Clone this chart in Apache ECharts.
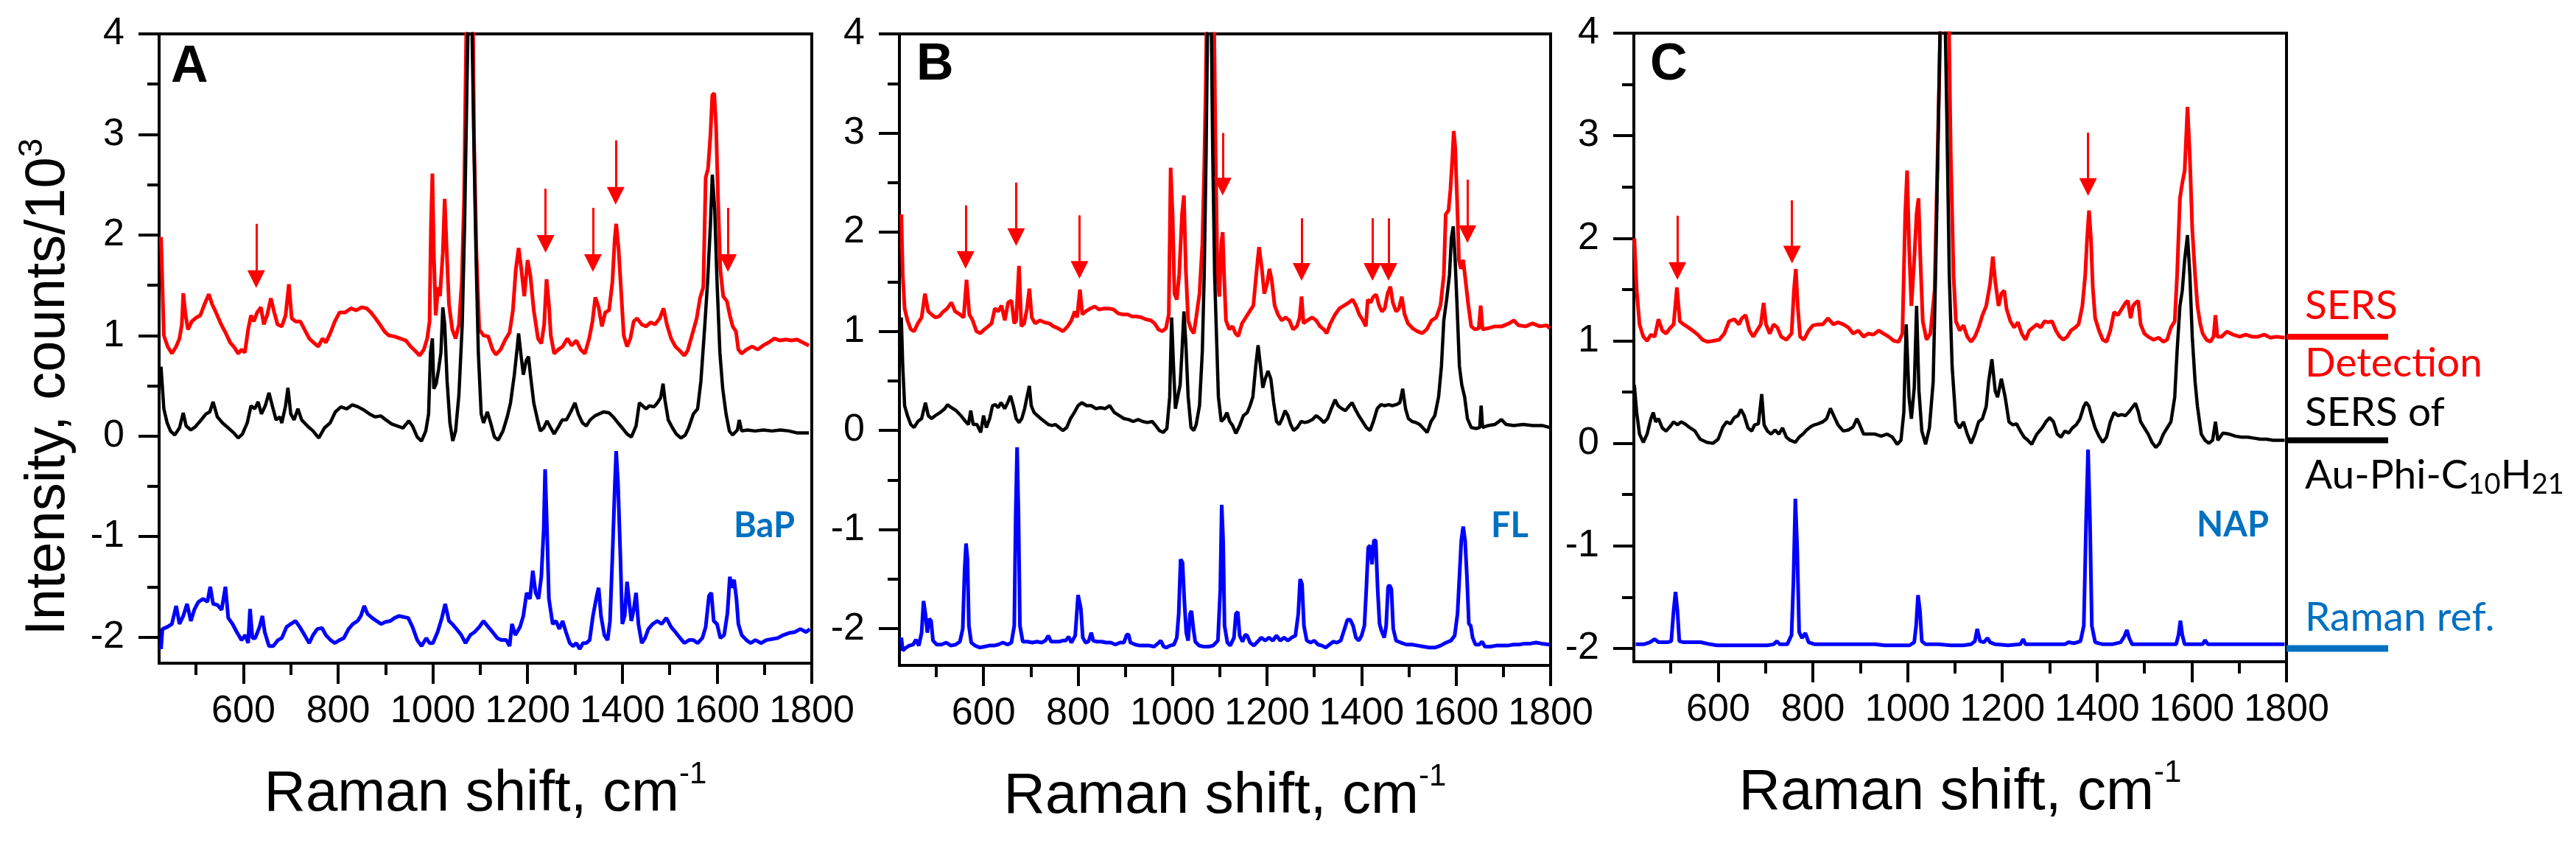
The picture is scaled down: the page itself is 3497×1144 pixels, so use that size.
<!DOCTYPE html>
<html><head><meta charset="utf-8">
<script src="https://cdn.jsdelivr.net/npm/echarts@6/dist/echarts.min.js"></script>
<style>html,body{margin:0;padding:0;background:#fff}#c{width:3497px;height:1144px}</style>
</head><body><div id="c"></div>
<script>
// ---------- axis values ----------
const xTicks = [600, 800, 1000, 1200, 1400, 1600, 1800];
const xMinorTicks = [500, 700, 900, 1100, 1300, 1500, 1700];
const yTicks = [-2, -1, 0, 1, 2, 3, 4];
const yMinorTicks = [-1.5, -0.5, 0.5, 1.5, 2.5, 3.5];
const xMin = 422, xMax = 1800, yMax = 4;
const yMins = [-2.26, -2.37, -2.13];
const panelLetters = ['A', 'B', 'C'];
const refNames = ['BaP', 'FL', 'NAP'];
const swatchLevels = [1.04, 0.03, -2.0];

// ---------- panel A ----------
const sersA = [[426,1.98],[432,1.00],[440,0.89],[449,0.82],[458,0.89],[465,0.97],[470,1.11],[473,1.42],[478,1.20],[483,1.06],[491,1.14],[501,1.18],[509,1.20],[517,1.30],[527,1.41],[534,1.31],[542,1.23],[553,1.11],[562,1.03],[572,0.93],[581,0.88],[589,0.82],[596,0.86],[603,0.83],[610,1.06],[616,1.20],[622,1.14],[629,1.23],[637,1.28],[643,1.11],[650,1.20],[658,1.37],[665,1.23],[672,1.11],[681,1.09],[689,1.20],[696,1.51],[702,1.17],[710,1.14],[720,1.14],[729,1.06],[739,0.97],[748,0.93],[758,0.89],[767,0.97],[774,0.93],[784,1.03],[793,1.14],[803,1.23],[815,1.23],[827,1.27],[838,1.25],[850,1.28],[860,1.27],[869,1.23],[879,1.17],[888,1.11],[898,1.04],[907,1.00],[919,0.99],[931,0.97],[943,0.95],[953,0.89],[962,0.85],[972,0.80],[981,0.86],[988,0.97],[993,1.14],[996,2.10],[999,2.61],[1002,1.82],[1006,1.20],[1011,1.48],[1015,1.39],[1021,1.82],[1025,2.36],[1029,1.87],[1034,1.31],[1041,1.06],[1048,0.97],[1055,1.11],[1061,1.53],[1066,2.38],[1069,3.50],[1072,4.50],[1084,4.50],[1087,2.94],[1092,1.82],[1098,1.06],[1107,1.00],[1117,0.99],[1126,0.86],[1133,0.81],[1143,0.86],[1152,0.95],[1162,1.03],[1169,1.25],[1175,1.65],[1181,1.87],[1187,1.65],[1193,1.39],[1200,1.75],[1206,1.59],[1213,1.25],[1222,0.97],[1229,0.92],[1235,1.11],[1240,1.56],[1245,1.31],[1249,1.00],[1256,0.82],[1265,0.86],[1274,0.89],[1284,0.97],[1293,0.90],[1303,0.95],[1312,0.86],[1321,0.82],[1330,0.97],[1337,1.14],[1343,1.38],[1350,1.28],[1357,1.09],[1364,1.23],[1372,1.25],[1379,1.53],[1384,1.96],[1387,2.11],[1392,1.87],[1397,1.48],[1403,1.00],[1410,0.89],[1417,0.97],[1424,1.14],[1431,1.17],[1441,1.11],[1450,1.09],[1460,1.13],[1469,1.11],[1479,1.17],[1487,1.27],[1494,1.11],[1503,0.97],[1512,0.89],[1521,0.85],[1531,0.80],[1538,0.85],[1547,1.00],[1557,1.17],[1564,1.37],[1571,1.48],[1576,2.57],[1581,2.66],[1586,2.99],[1590,3.39],[1594,3.41],[1598,3.08],[1602,2.38],[1607,1.65],[1613,1.39],[1621,1.34],[1627,1.20],[1633,1.09],[1640,1.04],[1645,0.86],[1652,0.82],[1662,0.86],[1674,0.89],[1686,0.86],[1697,0.90],[1709,0.93],[1721,0.97],[1733,0.95],[1745,0.96],[1757,0.95],[1769,0.96],[1781,0.93],[1794,0.90]];
const auA = [[426,0.69],[432,0.27],[439,0.13],[446,0.05],[455,0.01],[465,0.08],[473,0.23],[479,0.10],[489,0.06],[498,0.09],[509,0.15],[521,0.22],[529,0.24],[536,0.34],[545,0.19],[556,0.13],[568,0.08],[580,0.03],[589,-0.02],[598,0.02],[608,0.13],[616,0.30],[624,0.27],[631,0.34],[638,0.22],[646,0.30],[654,0.43],[661,0.30],[669,0.16],[677,0.19],[681,0.13],[689,0.30],[694,0.48],[700,0.22],[707,0.16],[715,0.27],[723,0.16],[735,0.10],[747,0.05],[759,-0.02],[771,0.08],[783,0.13],[794,0.24],[806,0.29],[818,0.27],[830,0.31],[842,0.29],[854,0.26],[866,0.22],[878,0.19],[890,0.20],[901,0.16],[913,0.12],[925,0.10],[937,0.08],[949,0.15],[957,0.10],[967,-0.01],[976,-0.05],[985,0.05],[991,0.22],[995,0.83],[999,0.97],[1002,0.47],[1007,0.52],[1012,0.66],[1017,0.83],[1021,1.28],[1025,1.11],[1030,0.55],[1036,0.13],[1042,-0.05],[1048,0.05],[1055,0.41],[1062,1.11],[1067,2.10],[1072,3.50],[1076,4.50],[1081,4.50],[1086,3.08],[1091,1.82],[1096,0.83],[1102,0.22],[1107,0.13],[1115,0.24],[1122,0.13],[1130,-0.01],[1138,-0.04],[1148,0.05],[1157,0.19],[1164,0.33],[1172,0.61],[1177,0.83],[1181,1.02],[1186,0.81],[1191,0.61],[1197,0.75],[1202,0.79],[1206,0.61],[1213,0.33],[1221,0.16],[1227,0.05],[1234,0.08],[1241,0.15],[1249,0.08],[1256,0.02],[1265,0.09],[1273,0.16],[1282,0.16],[1291,0.24],[1300,0.33],[1307,0.22],[1316,0.13],[1324,0.10],[1332,0.16],[1342,0.20],[1351,0.22],[1361,0.24],[1372,0.23],[1381,0.19],[1391,0.13],[1400,0.08],[1410,0.02],[1419,-0.01],[1429,0.10],[1436,0.33],[1443,0.30],[1450,0.27],[1457,0.30],[1467,0.29],[1474,0.33],[1481,0.38],[1486,0.52],[1490,0.36],[1497,0.16],[1506,0.08],[1514,0.02],[1524,-0.02],[1533,0.01],[1540,0.08],[1550,0.22],[1559,0.27],[1566,0.55],[1574,1.09],[1580,1.53],[1586,2.10],[1590,2.60],[1595,2.26],[1600,1.53],[1606,0.83],[1612,0.47],[1619,0.22],[1626,0.05],[1633,0.01],[1643,0.06],[1647,0.16],[1652,0.05],[1664,0.06],[1680,0.05],[1698,0.06],[1716,0.05],[1734,0.06],[1752,0.05],[1770,0.03],[1794,0.03]];
const refA = [[426,-2.12],[429,-1.92],[439,-1.90],[449,-1.87],[458,-1.69],[465,-1.87],[473,-1.79],[481,-1.67],[489,-1.84],[497,-1.72],[505,-1.65],[515,-1.62],[524,-1.65],[530,-1.50],[536,-1.67],[545,-1.68],[554,-1.73],[562,-1.50],[568,-1.81],[577,-1.87],[586,-1.95],[596,-2.03],[604,-1.98],[610,-2.06],[614,-1.72],[619,-2.01],[625,-2.01],[634,-1.90],[640,-1.79],[645,-1.95],[654,-2.09],[663,-2.09],[673,-2.03],[681,-2.01],[691,-1.90],[700,-1.87],[710,-1.84],[719,-1.90],[729,-1.98],[739,-2.06],[747,-1.98],[756,-1.92],[766,-1.91],[774,-1.98],[784,-2.03],[793,-2.06],[803,-2.03],[812,-2.01],[822,-1.92],[831,-1.87],[841,-1.84],[848,-1.79],[855,-1.69],[862,-1.77],[872,-1.81],[881,-1.84],[891,-1.87],[900,-1.85],[910,-1.84],[919,-1.81],[929,-1.79],[938,-1.80],[948,-1.81],[957,-1.90],[967,-2.03],[976,-2.09],[986,-2.01],[993,-2.06],[1000,-2.06],[1010,-1.95],[1019,-1.81],[1026,-1.67],[1034,-1.84],[1041,-1.87],[1050,-1.92],[1060,-1.98],[1069,-2.06],[1079,-1.98],[1088,-1.95],[1098,-1.90],[1107,-1.84],[1117,-1.90],[1126,-1.95],[1136,-2.01],[1145,-2.03],[1155,-2.03],[1162,-2.09],[1167,-1.87],[1174,-1.98],[1184,-1.90],[1191,-1.79],[1198,-1.56],[1205,-1.62],[1211,-1.34],[1217,-1.56],[1223,-1.62],[1229,-1.40],[1234,-0.93],[1237,-0.33],[1241,-0.93],[1245,-1.62],[1253,-1.87],[1260,-1.84],[1267,-1.92],[1274,-1.84],[1281,-1.95],[1289,-2.06],[1296,-2.09],[1303,-2.06],[1310,-2.12],[1317,-2.06],[1324,-2.06],[1331,-2.03],[1338,-1.79],[1346,-1.59],[1350,-1.51],[1355,-1.79],[1362,-1.98],[1369,-2.03],[1374,-1.84],[1379,-1.21],[1384,-0.52],[1387,-0.15],[1391,-0.48],[1396,-1.21],[1400,-1.87],[1405,-1.79],[1410,-1.45],[1415,-1.67],[1419,-1.84],[1424,-1.73],[1429,-1.56],[1434,-1.87],[1441,-2.06],[1448,-2.01],[1455,-1.92],[1464,-1.87],[1474,-1.84],[1483,-1.87],[1493,-1.81],[1503,-1.90],[1512,-1.95],[1522,-2.01],[1531,-2.06],[1541,-2.03],[1550,-2.03],[1559,-2.06],[1569,-2.01],[1576,-1.90],[1583,-1.59],[1588,-1.56],[1593,-1.84],[1600,-1.87],[1607,-2.01],[1615,-1.98],[1622,-1.76],[1627,-1.40],[1631,-1.51],[1636,-1.43],[1641,-1.62],[1645,-1.87],[1652,-1.98],[1662,-2.03],[1671,-2.06],[1681,-2.03],[1693,-2.06],[1704,-2.03],[1716,-2.02],[1728,-2.01],[1740,-1.98],[1752,-1.96],[1764,-1.95],[1776,-1.92],[1788,-1.95],[1796,-1.92]];
const arrowsA = [[627,2.11,1.56],[1238,2.46,1.91],[1338,2.27,1.72],[1386,2.94,2.39],[1623,2.27,1.72]];

// ---------- panel B ----------
const sersB = [[426,2.18],[429,1.57],[433,1.23],[439,1.11],[446,1.02],[453,1.00],[461,1.08],[469,1.14],[476,1.38],[483,1.20],[490,1.17],[498,1.14],[506,1.15],[515,1.20],[523,1.23],[532,1.29],[540,1.20],[550,1.17],[558,1.14],[564,1.52],[570,1.17],[577,1.11],[585,1.00],[593,0.98],[602,1.02],[610,1.05],[617,1.08],[624,1.23],[631,1.20],[638,1.26],[645,1.11],[652,1.29],[659,1.31],[665,1.08],[669,1.11],[675,1.66],[680,1.05],[686,1.08],[692,1.23],[697,1.43],[702,1.14],[709,1.08],[719,1.11],[729,1.09],[739,1.08],[748,1.05],[758,1.03],[768,1.00],[778,1.05],[786,1.11],[793,1.20],[798,1.14],[804,1.42],[809,1.17],[816,1.20],[826,1.23],[835,1.25],[845,1.22],[855,1.23],[865,1.23],[875,1.22],[885,1.18],[895,1.17],[905,1.17],[914,1.15],[924,1.15],[934,1.14],[944,1.12],[954,1.11],[962,1.08],[970,1.02],[978,1.00],[986,1.03],[992,1.17],[996,2.65],[1000,2.18],[1004,1.38],[1009,1.32],[1014,1.57],[1020,2.18],[1024,2.37],[1028,1.63],[1033,1.11],[1039,1.02],[1045,0.98],[1050,1.14],[1057,1.38],[1063,1.88],[1067,2.65],[1070,3.42],[1073,4.50],[1087,4.50],[1091,2.80],[1095,1.57],[1099,1.35],[1103,1.88],[1106,2.00],[1109,1.57],[1113,1.11],[1120,1.02],[1127,1.05],[1133,0.98],[1139,0.95],[1147,1.08],[1155,1.14],[1163,1.20],[1171,1.26],[1177,1.57],[1183,1.85],[1189,1.63],[1194,1.38],[1200,1.48],[1205,1.63],[1210,1.51],[1216,1.26],[1223,1.17],[1231,1.11],[1239,1.14],[1247,1.11],[1255,1.02],[1263,1.05],[1269,1.14],[1273,1.35],[1277,1.08],[1285,1.11],[1295,1.14],[1304,1.11],[1312,1.05],[1320,1.02],[1326,0.98],[1334,1.08],[1344,1.17],[1353,1.23],[1363,1.26],[1373,1.29],[1381,1.32],[1388,1.26],[1395,1.17],[1403,1.11],[1409,1.05],[1413,1.32],[1419,1.29],[1425,1.35],[1431,1.37],[1437,1.26],[1443,1.20],[1449,1.23],[1455,1.38],[1461,1.45],[1466,1.29],[1473,1.20],[1479,1.23],[1485,1.35],[1491,1.17],[1498,1.08],[1508,1.03],[1518,1.00],[1528,0.98],[1538,1.02],[1548,1.11],[1558,1.14],[1567,1.26],[1574,1.57],[1578,2.18],[1584,2.22],[1588,2.43],[1592,2.74],[1595,3.02],[1598,2.86],[1602,2.34],[1606,1.72],[1610,1.63],[1615,1.72],[1620,1.51],[1626,1.26],[1632,1.05],[1640,1.02],[1648,1.03],[1652,1.26],[1656,1.02],[1667,1.03],[1682,1.05],[1697,1.05],[1712,1.08],[1722,1.11],[1732,1.06],[1747,1.05],[1762,1.08],[1777,1.05],[1792,1.06],[1798,1.03]];
const auB = [[426,1.14],[429,0.65],[433,0.25],[439,0.15],[446,0.06],[453,0.03],[461,0.09],[469,0.12],[477,0.28],[483,0.15],[490,0.12],[498,0.15],[508,0.18],[518,0.22],[524,0.26],[532,0.23],[542,0.20],[552,0.15],[562,0.09],[568,0.06],[573,0.20],[578,0.06],[586,0.06],[594,-0.02],[600,0.15],[606,0.03],[613,0.12],[619,0.25],[625,0.26],[631,0.23],[637,0.28],[645,0.22],[651,0.28],[657,0.35],[663,0.25],[669,0.12],[675,0.08],[681,0.12],[687,0.22],[692,0.34],[697,0.45],[701,0.25],[707,0.18],[714,0.15],[721,0.12],[729,0.09],[737,0.06],[745,0.05],[752,0.06],[760,0.03],[768,0.00],[776,0.03],[784,0.12],[792,0.18],[800,0.25],[808,0.28],[818,0.25],[828,0.25],[838,0.22],[848,0.23],[857,0.22],[867,0.25],[877,0.18],[887,0.15],[897,0.12],[907,0.11],[917,0.09],[927,0.11],[937,0.09],[947,0.08],[957,0.09],[964,0.05],[972,0.00],[980,-0.02],[988,0.02],[994,0.34],[998,1.14],[1002,0.65],[1006,0.22],[1011,0.34],[1016,0.46],[1020,0.80],[1024,1.20],[1028,0.89],[1033,0.34],[1039,0.03],[1045,0.00],[1050,0.06],[1057,0.25],[1063,0.80],[1067,1.57],[1071,2.80],[1075,4.50],[1081,4.50],[1085,2.80],[1089,1.57],[1093,0.95],[1097,0.34],[1103,0.09],[1109,0.12],[1115,0.18],[1121,0.09],[1127,0.05],[1134,-0.03],[1142,0.05],[1150,0.15],[1158,0.18],[1164,0.25],[1170,0.34],[1176,0.65],[1181,0.86],[1186,0.65],[1191,0.43],[1196,0.52],[1202,0.60],[1208,0.52],[1214,0.28],[1220,0.09],[1226,0.06],[1232,0.12],[1238,0.20],[1244,0.15],[1250,0.06],[1256,0.00],[1264,0.03],[1272,0.09],[1280,0.08],[1288,0.09],[1296,0.11],[1304,0.15],[1312,0.12],[1320,0.08],[1328,0.12],[1336,0.22],[1344,0.31],[1350,0.25],[1358,0.22],[1366,0.20],[1374,0.25],[1380,0.28],[1386,0.22],[1394,0.15],[1402,0.09],[1410,0.03],[1418,0.00],[1425,0.09],[1433,0.22],[1441,0.26],[1449,0.25],[1457,0.26],[1465,0.25],[1473,0.26],[1481,0.28],[1487,0.42],[1493,0.22],[1499,0.12],[1507,0.09],[1515,0.08],[1523,0.06],[1531,0.02],[1539,-0.02],[1547,0.09],[1555,0.15],[1563,0.34],[1569,0.65],[1574,1.11],[1580,1.32],[1586,1.57],[1590,1.94],[1594,2.06],[1598,1.72],[1602,1.26],[1607,0.65],[1612,0.46],[1618,0.34],[1624,0.12],[1632,0.03],[1642,0.02],[1650,0.03],[1653,0.25],[1656,0.03],[1668,0.05],[1682,0.06],[1696,0.11],[1706,0.06],[1722,0.05],[1742,0.06],[1762,0.05],[1782,0.05],[1798,0.03]];
const refB = [[426,-2.09],[429,-2.22],[436,-2.19],[443,-2.17],[451,-2.16],[457,-2.11],[463,-2.17],[469,-2.04],[473,-1.72],[477,-1.85],[481,-2.04],[485,-1.90],[489,-1.92],[493,-2.12],[501,-2.16],[511,-2.16],[521,-2.14],[531,-2.17],[541,-2.16],[550,-2.13],[556,-2.00],[560,-1.40],[563,-1.14],[566,-1.30],[569,-1.97],[574,-2.14],[582,-2.17],[592,-2.19],[602,-2.18],[612,-2.17],[622,-2.17],[631,-2.16],[641,-2.14],[651,-2.16],[659,-2.14],[665,-1.97],[668,-0.86],[671,-0.17],[674,-0.86],[677,-1.97],[683,-2.13],[693,-2.13],[703,-2.14],[713,-2.13],[723,-2.14],[731,-2.12],[737,-2.07],[743,-2.13],[752,-2.13],[760,-2.13],[768,-2.12],[774,-2.12],[780,-2.08],[786,-2.14],[794,-2.07],[800,-1.66],[803,-1.65],[806,-1.80],[810,-2.09],[816,-2.14],[822,-2.13],[828,-2.04],[832,-2.12],[840,-2.13],[850,-2.13],[859,-2.14],[869,-2.14],[879,-2.16],[889,-2.14],[897,-2.14],[903,-2.06],[907,-2.06],[911,-2.14],[921,-2.16],[931,-2.17],[941,-2.17],[951,-2.17],[961,-2.18],[971,-2.14],[975,-2.12],[981,-2.18],[987,-2.19],[995,-2.17],[1003,-2.16],[1009,-2.09],[1013,-1.85],[1017,-1.30],[1021,-1.33],[1025,-1.72],[1029,-2.04],[1033,-2.12],[1037,-1.85],[1040,-1.82],[1044,-2.00],[1048,-2.13],[1056,-2.17],[1066,-2.18],[1076,-2.18],[1086,-2.17],[1096,-2.12],[1101,-1.60],[1104,-0.75],[1107,-1.11],[1110,-1.97],[1116,-2.14],[1122,-2.17],[1130,-2.09],[1134,-1.85],[1138,-1.83],[1142,-2.07],[1148,-2.13],[1154,-2.06],[1158,-2.07],[1164,-2.14],[1172,-2.17],[1180,-2.13],[1188,-2.09],[1196,-2.12],[1204,-2.09],[1212,-2.12],[1220,-2.07],[1228,-2.12],[1236,-2.09],[1244,-2.12],[1252,-2.09],[1260,-2.07],[1266,-1.85],[1270,-1.50],[1274,-1.55],[1278,-1.97],[1284,-2.12],[1292,-2.14],[1300,-2.12],[1308,-2.16],[1316,-2.17],[1324,-2.19],[1332,-2.16],[1340,-2.13],[1348,-2.14],[1356,-2.12],[1364,-2.00],[1370,-1.91],[1376,-1.91],[1382,-1.97],[1388,-2.09],[1394,-2.12],[1400,-2.07],[1406,-1.97],[1410,-1.60],[1414,-1.18],[1418,-1.16],[1422,-1.35],[1426,-1.11],[1430,-1.11],[1434,-1.60],[1438,-1.95],[1442,-2.02],[1448,-2.09],[1452,-1.97],[1456,-1.58],[1459,-1.56],[1463,-1.60],[1467,-2.00],[1473,-2.12],[1483,-2.14],[1495,-2.16],[1507,-2.16],[1519,-2.17],[1531,-2.18],[1543,-2.19],[1555,-2.19],[1567,-2.17],[1579,-2.14],[1589,-2.12],[1597,-2.07],[1603,-1.85],[1607,-1.48],[1611,-1.11],[1615,-0.97],[1619,-1.11],[1623,-1.48],[1627,-1.95],[1631,-1.97],[1635,-2.09],[1641,-2.16],[1649,-2.16],[1655,-2.13],[1661,-2.18],[1673,-2.18],[1685,-2.17],[1697,-2.17],[1709,-2.17],[1721,-2.16],[1733,-2.16],[1745,-2.15],[1757,-2.15],[1769,-2.14],[1781,-2.15],[1798,-2.16]];
const arrowsB = [[562,2.27,1.72],[669,2.50,1.95],[803,2.17,1.62],[1106,3.00,2.46],[1273,2.14,1.60],[1423,2.14,1.60],[1457,2.14,1.60],[1624,2.53,1.98]];

// ---------- panel C ----------
const sersC = [[423,2.00],[428,1.49],[434,1.16],[442,1.04],[450,1.00],[458,1.06],[466,1.04],[474,1.21],[482,1.10],[490,1.07],[498,1.12],[506,1.16],[513,1.52],[519,1.19],[527,1.16],[537,1.13],[546,1.10],[557,1.06],[567,1.01],[578,0.99],[590,1.00],[602,1.01],[613,1.07],[623,1.19],[634,1.21],[644,1.16],[650,1.22],[658,1.25],[666,1.10],[674,1.04],[682,1.10],[690,1.16],[696,1.37],[701,1.16],[709,1.07],[717,1.16],[725,1.13],[733,1.04],[744,1.01],[755,1.07],[760,1.49],[764,1.70],[768,1.34],[773,1.04],[781,1.01],[791,1.10],[800,1.15],[811,1.16],[821,1.16],[832,1.22],[843,1.16],[853,1.18],[864,1.16],[875,1.13],[885,1.07],[896,1.10],[907,1.04],[917,1.07],[928,1.06],[939,1.10],[949,1.07],[960,1.04],[971,1.00],[981,0.99],[989,1.07],[995,2.24],[999,2.66],[1003,1.94],[1008,1.34],[1014,1.79],[1019,2.24],[1023,2.39],[1027,1.79],[1032,1.19],[1040,1.01],[1048,1.07],[1057,1.49],[1062,2.54],[1067,3.58],[1071,4.50],[1086,4.50],[1091,2.84],[1097,1.64],[1102,1.19],[1110,1.10],[1118,1.15],[1126,1.04],[1134,0.99],[1142,1.04],[1150,1.13],[1158,1.25],[1166,1.34],[1174,1.55],[1180,1.82],[1185,1.58],[1192,1.34],[1198,1.46],[1204,1.49],[1209,1.31],[1217,1.19],[1225,1.13],[1233,1.18],[1241,1.07],[1249,1.01],[1257,1.10],[1265,1.13],[1273,1.16],[1281,1.13],[1289,1.19],[1297,1.18],[1305,1.19],[1313,1.10],[1321,1.04],[1329,1.01],[1337,1.04],[1345,1.10],[1354,1.13],[1361,1.16],[1369,1.34],[1375,1.64],[1379,2.00],[1383,2.27],[1387,2.00],[1391,1.52],[1396,1.22],[1404,1.10],[1412,1.01],[1420,0.99],[1428,1.10],[1436,1.28],[1444,1.25],[1452,1.31],[1460,1.37],[1465,1.39],[1471,1.22],[1476,1.34],[1481,1.37],[1487,1.39],[1492,1.16],[1500,1.07],[1508,1.04],[1519,1.01],[1530,1.03],[1540,0.99],[1548,1.01],[1556,1.13],[1564,1.19],[1569,1.64],[1575,2.39],[1580,2.54],[1585,2.66],[1591,3.28],[1596,2.78],[1601,2.09],[1607,1.64],[1612,1.34],[1618,1.16],[1623,1.07],[1631,1.01],[1639,0.99],[1646,1.04],[1650,1.25],[1654,1.04],[1663,1.04],[1674,1.09],[1687,1.06],[1701,1.04],[1714,1.06],[1727,1.04],[1740,1.04],[1753,1.06],[1766,1.03],[1779,1.04],[1796,1.03]];
const auC = [[423,0.57],[428,0.30],[434,0.09],[442,0.01],[450,0.09],[458,0.24],[463,0.30],[468,0.21],[474,0.24],[482,0.15],[490,0.12],[498,0.16],[506,0.21],[514,0.18],[522,0.21],[530,0.19],[541,0.15],[551,0.12],[562,0.04],[576,0.01],[589,0.00],[600,0.04],[610,0.16],[618,0.21],[626,0.19],[634,0.25],[642,0.27],[648,0.33],[655,0.27],[663,0.15],[671,0.12],[677,0.18],[685,0.19],[692,0.48],[697,0.18],[704,0.12],[712,0.09],[720,0.13],[728,0.09],[736,0.15],[744,0.06],[752,0.03],[763,0.01],[771,0.06],[779,0.09],[787,0.13],[795,0.16],[803,0.18],[811,0.19],[821,0.21],[829,0.24],[837,0.34],[846,0.25],[853,0.18],[864,0.12],[875,0.13],[885,0.16],[893,0.24],[899,0.18],[907,0.09],[917,0.09],[931,0.09],[944,0.07],[957,0.09],[968,0.06],[978,-0.01],[986,0.03],[992,0.30],[997,1.16],[1003,0.45],[1008,0.24],[1014,0.54],[1019,1.34],[1024,0.51],[1030,0.12],[1038,-0.01],[1046,0.15],[1054,0.60],[1059,1.64],[1065,3.13],[1070,4.50],[1078,4.50],[1083,3.13],[1088,1.64],[1094,0.75],[1102,0.21],[1110,0.15],[1118,0.21],[1126,0.09],[1134,0.00],[1142,0.09],[1150,0.21],[1158,0.24],[1166,0.36],[1171,0.60],[1178,0.82],[1185,0.51],[1190,0.45],[1198,0.63],[1206,0.45],[1214,0.21],[1222,0.18],[1230,0.19],[1238,0.12],[1246,0.06],[1254,0.03],[1262,-0.01],[1273,0.09],[1284,0.15],[1292,0.21],[1300,0.25],[1308,0.21],[1316,0.09],[1324,0.06],[1332,0.12],[1340,0.10],[1348,0.15],[1356,0.18],[1364,0.24],[1372,0.36],[1377,0.40],[1383,0.36],[1388,0.27],[1396,0.15],[1404,0.07],[1412,0.01],[1420,0.06],[1428,0.21],[1436,0.30],[1444,0.27],[1452,0.28],[1460,0.27],[1468,0.31],[1476,0.36],[1481,0.39],[1487,0.31],[1492,0.21],[1500,0.15],[1508,0.09],[1516,0.01],[1524,-0.04],[1532,0.00],[1540,0.09],[1548,0.15],[1556,0.21],[1564,0.45],[1569,0.90],[1575,1.34],[1580,1.49],[1585,1.79],[1591,2.03],[1596,1.64],[1601,1.04],[1607,0.60],[1612,0.36],[1620,0.09],[1628,0.03],[1636,0.00],[1644,0.03],[1650,0.21],[1655,0.03],[1666,0.10],[1679,0.09],[1692,0.07],[1705,0.06],[1718,0.06],[1732,0.05],[1745,0.04],[1758,0.04],[1772,0.03],[1785,0.03],[1796,0.03]];
const refC = [[426,-1.96],[443,-1.96],[456,-1.94],[466,-1.91],[474,-1.94],[483,-1.94],[493,-1.94],[501,-1.93],[506,-1.63],[510,-1.45],[514,-1.63],[518,-1.93],[527,-1.94],[543,-1.94],[563,-1.94],[583,-1.96],[597,-1.97],[624,-1.97],[664,-1.97],[704,-1.97],[717,-1.96],[724,-1.93],[730,-1.96],[746,-1.96],[755,-1.87],[759,-1.34],[763,-0.54],[767,-1.04],[771,-1.84],[777,-1.90],[784,-1.85],[791,-1.94],[804,-1.96],[824,-1.96],[851,-1.96],[877,-1.96],[904,-1.96],[931,-1.96],[951,-1.97],[971,-1.97],[991,-1.97],[1004,-1.97],[1014,-1.94],[1018,-1.78],[1022,-1.48],[1026,-1.63],[1030,-1.93],[1038,-1.96],[1064,-1.96],[1091,-1.97],[1118,-1.97],[1134,-1.96],[1142,-1.93],[1147,-1.81],[1153,-1.93],[1161,-1.94],[1169,-1.90],[1174,-1.94],[1185,-1.96],[1212,-1.97],[1238,-1.96],[1244,-1.91],[1249,-1.96],[1272,-1.96],[1305,-1.96],[1332,-1.96],[1340,-1.94],[1352,-1.95],[1365,-1.93],[1372,-1.78],[1377,-0.74],[1381,-0.06],[1385,-0.74],[1389,-1.78],[1396,-1.94],[1412,-1.96],[1432,-1.96],[1450,-1.94],[1458,-1.88],[1463,-1.82],[1468,-1.90],[1474,-1.96],[1492,-1.96],[1519,-1.96],[1546,-1.96],[1567,-1.96],[1572,-1.87],[1576,-1.73],[1580,-1.87],[1585,-1.96],[1605,-1.96],[1623,-1.96],[1628,-1.92],[1634,-1.96],[1652,-1.96],[1692,-1.96],[1732,-1.96],[1772,-1.96],[1796,-1.96]];
const arrowsC = [[514,2.22,1.68],[756,2.37,1.84],[1381,3.03,2.50]];

// ---------- build option ----------
const RED = '#ff0000', BLACK = '#000000', BLUE = '#0000ff', LABELBLUE = '#0070c0';
const AXFONT = 'Liberation Sans, Arial, sans-serif';
const CALFONT = 'Lato, "Open Sans", sans-serif';
const plain = v => String(v);
const panels = [
  {sers: sersA, au: auA, ref: refA, arrows: arrowsA},
  {sers: sersB, au: auB, ref: refB, arrows: arrowsB},
  {sers: sersC, au: auC, ref: refC, arrows: arrowsC}
];
const gridBoxes = [
  {left: 216, right: 2395, top: 46, bottom: 244},
  {left: 1221, right: 1392, top: 46, bottom: 241},
  {left: 2218, right: 393, top: 45, bottom: 246}
];
const grid = [], xAxis = [], yAxis = [], series = [];
gridBoxes.forEach((g, i) => {
  grid.push(Object.assign({show: true, borderColor: '#000', borderWidth: 4, backgroundColor: 'transparent', containLabel: false, outerBoundsMode: 'none'}, g));
  xAxis.push({
    type: 'value', gridIndex: i, min: xMin, max: xMax, position: 'bottom',
    axisLine: {show: true, onZero: false, lineStyle: {color: '#000', width: 4}},
    axisTick: {show: true, inside: false, length: 28, customValues: xTicks, lineStyle: {color: '#000', width: 4}},
    axisLabel: {show: true, customValues: xTicks, formatter: plain, showMinLabel: true, showMaxLabel: true, hideOverlap: false,
      margin: 40, fontSize: 52, fontFamily: AXFONT, color: '#000'},
    splitLine: {show: false},
    name: '{m|Raman shift, cm}{s|-1}', nameLocation: 'middle', nameGap: 130, nameMoveOverlap: false,
    nameTextStyle: {rich: {
      m: {fontSize: 78, fontFamily: AXFONT, color: '#000', lineHeight: 96, verticalAlign: 'middle'},
      s: {fontSize: 42, fontFamily: AXFONT, color: '#000', lineHeight: 48, verticalAlign: 'top'}
    }}
  });
  xAxis.push({
    type: 'value', gridIndex: i, min: xMin, max: xMax, position: 'bottom',
    axisLine: {show: false, onZero: false},
    axisTick: {show: true, inside: false, length: 16, customValues: xMinorTicks, lineStyle: {color: '#000', width: 4}},
    axisLabel: {show: false}, splitLine: {show: false}
  });
  const ya = {
    type: 'value', gridIndex: i, min: yMins[i], max: yMax, position: 'left',
    axisLine: {show: true, onZero: false, lineStyle: {color: '#000', width: 4}},
    axisTick: {show: true, inside: false, length: 28, customValues: yTicks, lineStyle: {color: '#000', width: 4}},
    axisLabel: {show: true, customValues: yTicks, formatter: plain, showMinLabel: true, showMaxLabel: true, hideOverlap: false,
      margin: 47, fontSize: 52, fontFamily: AXFONT, color: '#000'},
    splitLine: {show: false}
  };
  if (i === 0) {
    Object.assign(ya, {
      name: '{m|Intensity, counts/10}{s|3}', nameLocation: 'middle', nameRotate: 90, nameGap: 105, nameMoveOverlap: false,
      nameTextStyle: {rich: {
        m: {fontSize: 76, fontFamily: AXFONT, color: '#000', lineHeight: 90, verticalAlign: 'middle'},
        s: {fontSize: 46, fontFamily: AXFONT, color: '#000', lineHeight: 52, verticalAlign: 'top'}
      }, padding: [0, 104, 0, 0]}
    });
  }
  yAxis.push(ya);
  yAxis.push({
    type: 'value', gridIndex: i, min: yMins[i], max: yMax, position: 'left',
    axisLine: {show: false, onZero: false},
    axisTick: {show: true, inside: false, length: 16, customValues: yMinorTicks, lineStyle: {color: '#000', width: 4}},
    axisLabel: {show: false}, splitLine: {show: false}
  });
  const p = panels[i];
  const common = {type: 'line', xAxisIndex: 2 * i, yAxisIndex: 2 * i, showSymbol: false, symbol: 'none', clip: true, animation: false, silent: true};
  series.push(Object.assign({}, common, {name: 'SERS Detection', data: p.sers, lineStyle: {color: RED, width: 5}, itemStyle: {color: RED}, z: 2}));
  series.push(Object.assign({}, common, {name: 'SERS of Au-Phi-C10H21', data: p.au, lineStyle: {color: BLACK, width: 4.5}, itemStyle: {color: BLACK}, z: 3}));
  series.push(Object.assign({}, common, {name: 'Raman ref.', data: p.ref, lineStyle: {color: BLUE, width: 5}, itemStyle: {color: BLUE}, z: 4}));
  series.push({
    type: 'lines', coordinateSystem: 'cartesian2d', xAxisIndex: 2 * i, yAxisIndex: 2 * i,
    symbol: ['none', 'triangle'], symbolSize: 24, animation: false, silent: true, z: 5,
    lineStyle: {color: RED, width: 3, opacity: 1, curveness: 0},
    itemStyle: {color: RED},
    data: p.arrows.map(a => ({coords: [[a[0], a[1]], [a[0], a[2]]]}))
  });
});
// swatch grid beside panel C (same y scale as C)
grid.push({left: 3104, right: 255, top: 45, bottom: 246, show: false, containLabel: false, outerBoundsMode: 'none'});
xAxis.push({type: 'value', gridIndex: 3, min: 0, max: 1, show: false});
yAxis.push({type: 'value', gridIndex: 3, min: yMins[2], max: yMax, show: false});
const swatchColors = [RED, BLACK, LABELBLUE];
const swatchWidths = [8, 8, 9];
swatchLevels.forEach((lv, k) => {
  series.push({type: 'line', xAxisIndex: 6, yAxisIndex: 6, showSymbol: false, symbol: 'none', animation: false, silent: true, clip: false,
    data: [[0, lv], [1, lv]], lineStyle: {color: swatchColors[k], width: swatchWidths[k]}});
});

function txt(x, y, text, style) {
  return {type: 'text', x: x, y: y, silent: true, z: 100, style: Object.assign({text: text}, style)};
}
const letterPos = [[232, 92], [1244, 89], [2240, 89]];
const refPos = [[1079, 714], [2075, 714], [3080, 713]];
const graphic = [];
panelLetters.forEach((L, i) => {
  graphic.push(txt(letterPos[i][0], letterPos[i][1], L, {fontSize: 70, fontWeight: 'bold', fontFamily: AXFONT, fill: '#000', align: 'left', verticalAlign: 'middle', textAlign: 'left', textVerticalAlign: 'middle'}));
});
refNames.forEach((n, i) => {
  graphic.push(txt(refPos[i][0], refPos[i][1], n, {fontSize: 47, fontWeight: 'bold', fontFamily: CALFONT, fill: LABELBLUE, align: 'right', verticalAlign: 'middle', textAlign: 'right', textVerticalAlign: 'middle'}));
});
const lab = {fontSize: 55, fontFamily: CALFONT, align: 'left', verticalAlign: 'middle', textAlign: 'left', textVerticalAlign: 'middle'};
graphic.push(txt(3129, 415, 'SERS', Object.assign({fill: RED}, lab)));
graphic.push(txt(3129, 493, 'Detection', Object.assign({fill: RED}, lab)));
graphic.push(txt(3129, 560, 'SERS of', Object.assign({fill: '#000'}, lab)));
graphic.push(txt(3129, 645, '{m|Au-Phi-C}{s|10}{m|H}{s|21}', Object.assign({fill: '#000', rich: {
  m: {fontSize: 55, fontFamily: CALFONT, fill: '#000', color: '#000', lineHeight: 64, verticalAlign: 'middle'},
  s: {fontSize: 38, fontFamily: CALFONT, fill: '#000', color: '#000', lineHeight: 26, verticalAlign: 'bottom'}
}}, lab)));
graphic.push(txt(3129, 838, 'Raman ref.', Object.assign({fill: LABELBLUE}, lab)));

const chart = echarts.init(document.getElementById('c'), null, {renderer: 'canvas', width: 3497, height: 1144});
chart.setOption({
  animation: false,
  backgroundColor: '#ffffff',
  grid: grid, xAxis: xAxis, yAxis: yAxis, series: series, graphic: graphic
});
</script>
</body></html>
